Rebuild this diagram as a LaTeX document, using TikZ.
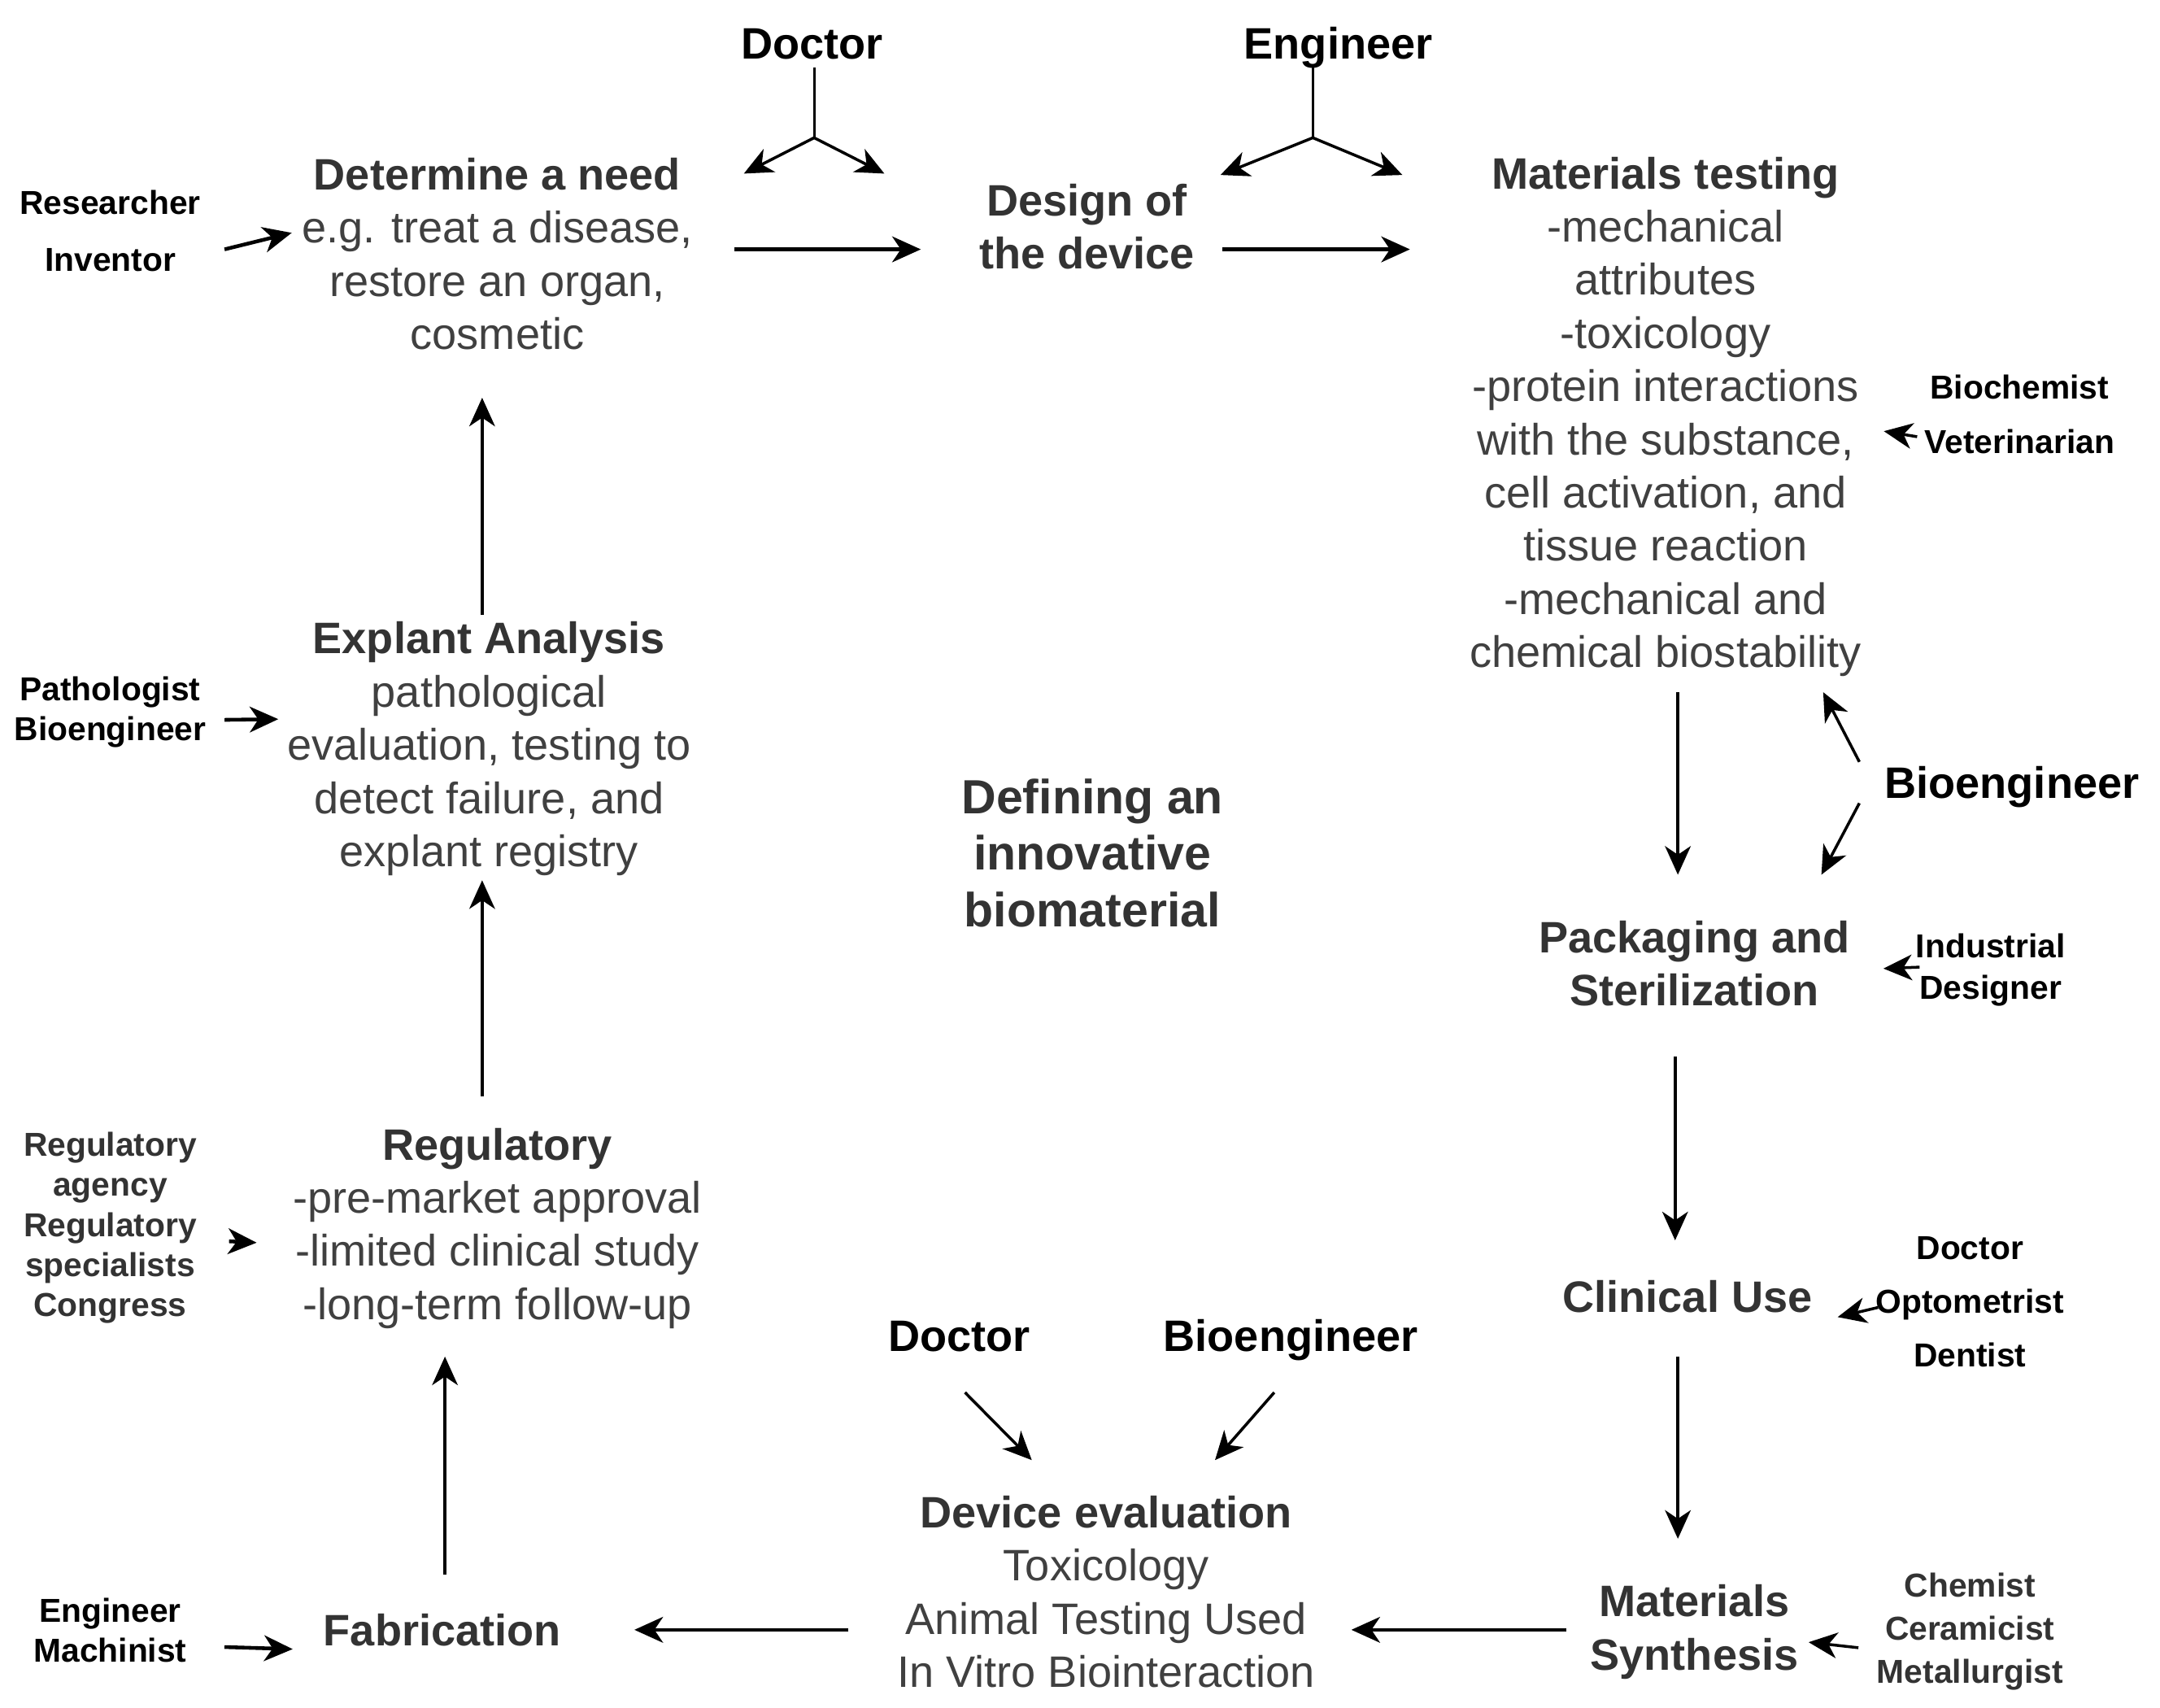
\documentclass[tikz,border=0pt]{standalone}
\usepackage{fontspec}
\setmainfont{Liberation Sans}
\usepackage{tikz}
\usetikzlibrary{arrows.meta}
\usetikzlibrary{positioning}
\definecolor{ttl}{HTML}{333333}
\definecolor{bdy}{HTML}{404040}
\newcommand{\mainsize}{\fontsize{15.4}{18.6}\selectfont}
\newcommand{\actsize}{\fontsize{11.6}{14}\selectfont}
\newcommand{\stagetitle}[1]{{\color{ttl}\bfseries #1}}
\tikzset{>={Stealth[length = 10pt, width = 9pt, inset = 3pt]}}
\tikzset{stage/.style = {align = center, inner sep = 0, font = \mainsize, text = bdy,
    execute at begin node = \strut, execute at end node = \strut}}
\tikzset{actor/.style = {stage, font = \actsize\bfseries, text = black}}
\tikzset{bigactor/.style = {stage, font = \mainsize\bfseries, text = black}}
\tikzset{flow/.style = {->, line width = 1.3pt}}
\tikzset{thinflow/.style = {->, line width = 1pt}}

\begin{document}
\begin{tikzpicture}[x = 0.016939cm, y = -0.016939cm]
      \useasboundingbox (0, 0) rectangle (1568, 1239.7);

      \node [stage] (need) at (361, 190) {\stagetitle{Determine a need}\\e.g. treat a disease,\\restore an organ,\\cosmetic};
      \node [stage] (design) at (789, 170) {\stagetitle{Design of}\\\stagetitle{the device}};
      \node [stage] (mtest) at (1209, 305) {\stagetitle{Materials testing}\\-mechanical\\attributes\\-toxicology\\-protein interactions\\with the substance,\\cell activation, and\\tissue reaction\\-mechanical and\\chemical biostability};
      \node [stage] (pack) at (1230, 705) {\stagetitle{Packaging and}\\\stagetitle{Sterilization}};
      \node [stage] (clinic) at (1225, 945) {\stagetitle{Clinical Use}};
      \node [stage] (synth) at (1230, 1187) {\stagetitle{Materials}\\\stagetitle{Synthesis}};
      \node [stage] (deval) at (803, 1161) {\stagetitle{Device evaluation}\\Toxicology\\Animal Testing Used\\In Vitro Biointeraction};
      \node [stage] (fab) at (321, 1187) {\stagetitle{Fabrication}};
      \node [stage] (reg) at (361, 894) {\stagetitle{Regulatory}\\-pre-market approval\\-limited clinical study\\-long-term follow-up};
      \node [stage] (explant) at (355, 546) {\stagetitle{Explant Analysis}\\pathological\\evaluation, testing to\\detect failure, and\\explant registry};
      \node [stage, font = \fontsize{16.8}{19.8}\selectfont\bfseries, text = ttl] (core) at (793, 625) {Defining an\\innovative\\biomaterial};

      \node [bigactor] (docTop) at (589.5, 35) {Doctor};
      \node [bigactor] (engTop) at (971.5, 35) {Engineer};
      \node [bigactor] (bioeng) at (1460.5, 572) {Bioengineer};
      \node [bigactor] (docBot) at (696.5, 973) {Doctor};
      \node [bigactor] (bioBot) at (937, 973) {Bioengineer};

      \node [actor] (resinv) at (80, 172) {Researcher\\[5.8pt]Inventor};
      \node [actor] (patbio) at (80, 518.5) {Pathologist\\Bioengineer};
      \node [actor, text = ttl] (regact) at (80, 893) {Regulatory\\agency\\Regulatory\\specialists\\Congress};
      \node [actor] (engmach) at (80, 1187.5) {Engineer\\Machinist};
      \node [actor] (bioveter) at (1466, 305) {Biochemist\\[5.3pt]Veterinarian};
      \node [actor] (indes) at (1445, 706) {Industrial\\[0.5pt]Designer};
      \node [actor] (docopt) at (1430, 949) {Doctor\\[4.8pt]Optometrist\\[4.8pt]Dentist};
      \node [actor, text = ttl] (chem) at (1430, 1186) {Chemist\\[1pt]Ceramicist\\[1pt]Metallurgist};

      \coordinate (docFork) at (591, 100);
      \coordinate (docL) at (540, 126);
      \coordinate (docR) at (642, 126);
      \coordinate (engFork) at (953, 100);
      \coordinate (engL) at (886, 127);
      \coordinate (engR) at (1018, 127);

      \draw [line width = 0.9pt] ([shift = {(1.5, -6)}]docTop.south) -- (docFork);
      \draw [thinflow, <->] (docL) -- (docFork) -- (docR);
      \draw [line width = 0.9pt] ([shift = {(-18.5, -6)}]engTop.south) -- (engFork);
      \draw [thinflow, <->] (engL) -- (engFork) -- (engR);

      \draw [flow] ([shift = {(30, -9)}]need.east) -- ([shift = {(-42, 11)}]design.west);
      \draw [flow] ([shift = {(20, 11)}]design.east) -- ([shift = {(-43, 11)}]design.east -| mtest.west);
      \draw [thinflow] ([shift = {(9, 6)}]mtest.south) -- ([shift = {(-12, -33)}]pack.north);
      \draw [thinflow] ([shift = {(-14, 25)}]pack.south) -- ([shift = {(-9, -25)}]clinic.north);
      \draw [thinflow] ([shift = {(-7, 20)}]clinic.south) -- ([shift = {(-12, -33)}]synth.north);
      \draw [flow] ([shift = {(-17, -4)}]synth.west) -- ([shift = {(26, 22)}]deval.east);
      \draw [flow] ([shift = {(-35, 22)}]deval.west) -- ([shift = {(53, -4)}]fab.east);
      \draw [thinflow] ([shift = {(2, -24.5)}]fab.north) -- ([shift = {(-38, 15)}]reg.south);
      \draw [thinflow] ([shift = {(-11, -22.5)}]reg.north) -- ([shift = {(-5, -2)}]explant.south);
      \draw [thinflow] ([shift = {(-5, -4.5)}]explant.north) -- ([shift = {(-11, 23)}]need.south);

      \draw [flow] ([shift = {(17, 9)}]resinv.east) -- ([shift = {(-7, -21)}]need.west);
      \draw [flow] ([shift = {(13, 4)}]patbio.east) -- ([shift = {(-6, -24)}]explant.west);
      \draw [flow] ([shift = {(23, 8)}]regact.east) -- ([shift = {(-26, 8)}]reg.west);
      \draw [flow] ([shift = {(27, 8)}]engmach.east) -- ([shift = {(-22, 10)}]fab.west);
      \draw [thinflow] ([shift = {(-5, 12)}]bioveter.west) -- ([shift = {(16, 8)}]mtest.east);
      \draw [thinflow] ([shift = {(-18, -19)}]bioeng.west) -- ([shift = {(-28, 6)}]mtest.south east);
      \draw [thinflow] ([shift = {(-18, 11)}]bioeng.west) -- ([shift = {(-21, -33)}]pack.north east);
      \draw [thinflow] ([shift = {(3, -4)}]indes.west) -- ([shift = {(24, -2)}]pack.east);
      \draw [thinflow] ([shift = {(2, 0)}]docopt.west) -- ([shift = {(18, 11)}]clinic.east);
      \draw [thinflow] ([shift = {(-13, 10)}]chem.west) -- ([shift = {(7, 5)}]synth.east);
      \draw [thinflow] ([shift = {(4, 18)}]docBot.south) -- ([shift = {(-54, -25.5)}]deval.north);
      \draw [thinflow] ([shift = {(-12, 18)}]bioBot.south) -- ([shift = {(79, -25.5)}]deval.north);
\end{tikzpicture}
\end{document}
